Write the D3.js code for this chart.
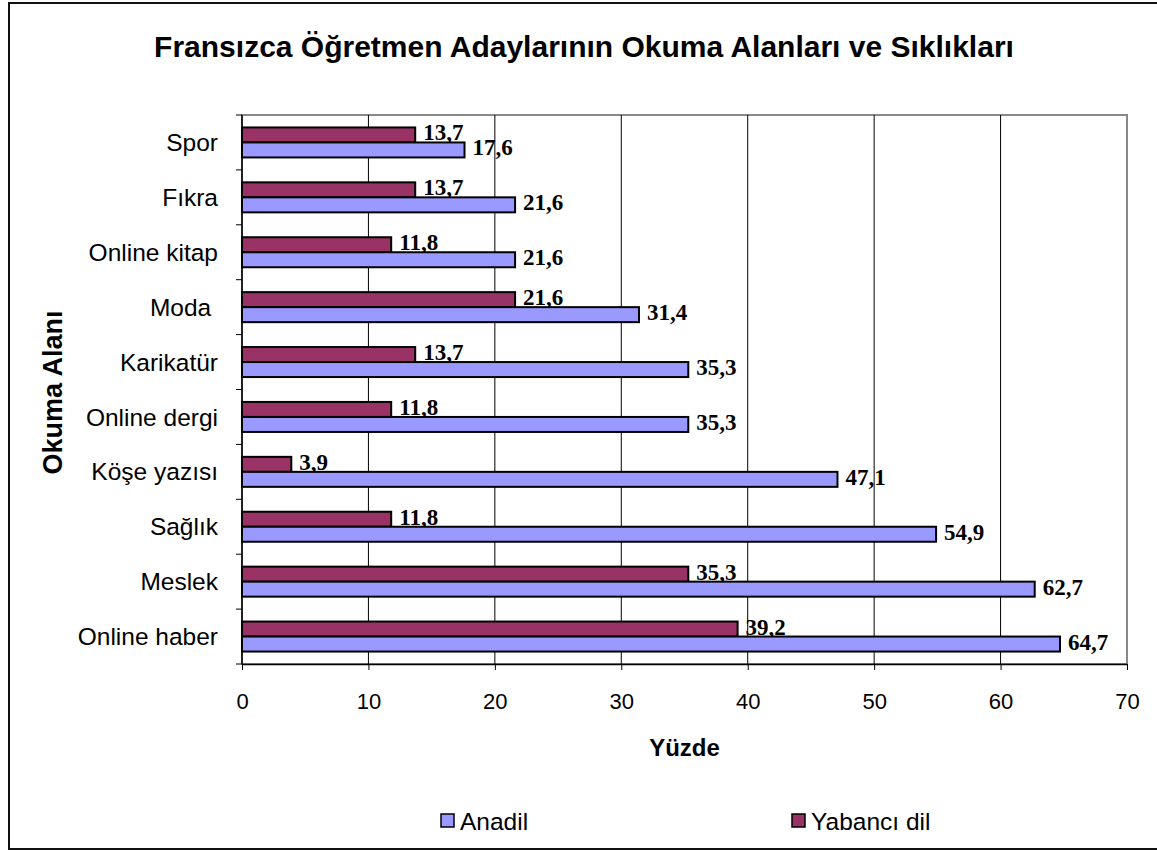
<!DOCTYPE html>
<html>
<head>
<meta charset="utf-8">
<script src="https://cdn.jsdelivr.net/npm/d3@7"></script>
<style>
  body { margin: 0; background: #fff; }
</style>
</head>
<body>
<svg id="chart" width="1157" height="850"></svg>
<script>
/* Okuma alanlari - yatay gruplu cubuk grafik */
const categories = ['Spor', 'Fıkra', 'Online kitap', 'Moda ', 'Karikatür', 'Online dergi',
  'Köşe yazısı', 'Sağlık', 'Meslek', 'Online haber']
const anadil = [17.6, 21.6, 21.6, 31.4, 35.3, 35.3, 47.1, 54.9, 62.7, 64.7]
const yabanci = [13.7, 13.7, 11.8, 21.6, 13.7, 11.8, 3.9, 11.8, 35.3, 39.2]
const seriesNames = ['Anadil', 'Yabancı dil']
const xTicks = [0, 10, 20, 30, 40, 50, 60, 70]

const plot = { left: 242, right: 1127, top: 115, bottom: 664 }
const colors = { anadil: '#9999ff', yabanci: '#993366' }
const sans = 'Arial, "Liberation Sans", sans-serif'
const serif = '"Times New Roman", "Liberation Serif", serif'

const svg = d3.select('#chart')
    .style('font-family', sans)

// dis cerceve
svg.append('rect')
    .attr('x', 9).attr('y', 3)
    .attr('width', 1160).attr('height', 846)
    .attr('fill', '#fff')
    .attr('stroke', '#111')
    .attr('stroke-width', 2)

const x = d3.scaleLinear()
    .domain([0, 70])
    .range([plot.left, plot.right])

const y = d3.scaleBand()
    .domain(categories)
    .range([plot.top, plot.bottom])

const inner = d3.scaleBand()
    .domain(['yabanci', 'anadil'])
    .range([0, 30])

const fmt = v => d3.format('.1f')(v).replace('.', ',')

// plot alani
svg.append('rect')
    .attr('x', plot.left).attr('y', plot.top)
    .attr('width', plot.right - plot.left)
    .attr('height', plot.bottom - plot.top)
    .attr('fill', 'none')
    .attr('stroke', '#888')
    .attr('stroke-width', 2)

// dikey izgara
svg.append('g')
    .selectAll('line')
    .data(xTicks.slice(1, -1))
    .enter()
    .append('line')
    .attr('x1', d => x(d)).attr('x2', d => x(d))
    .attr('y1', plot.top).attr('y2', plot.bottom)
    .attr('stroke', '#000')
    .attr('stroke-width', 1)

const xAxis = d3.axisBottom(x)
    .tickValues(xTicks)
    .tickSize(6)
    .tickSizeOuter(0)
    .tickPadding(23)

const gx = svg.append('g')
    .attr('transform', `translate(0,${plot.bottom})`)
    .call(xAxis)
gx.attr('font-size', null).attr('font-family', null)
gx.select('.domain').attr('stroke', '#000').attr('stroke-width', 1.5)
gx.selectAll('.tick line').attr('stroke', '#000')
gx.selectAll('.tick text')
    .style('font-size', '22px')
    .attr('fill', '#000')

// y ekseni: kategori sinirlarinda tikler
const gy = svg.append('g')
gy.append('line')
    .attr('x1', plot.left).attr('x2', plot.left)
    .attr('y1', plot.top).attr('y2', plot.bottom)
    .attr('stroke', '#000').attr('stroke-width', 1.5)
gy.selectAll('line.tk')
    .data(categories)
    .enter()
    .append('line')
    .attr('class', 'tk')
    .attr('x1', plot.left - 6).attr('x2', plot.left)
    .attr('y1', d => y(d) + y.bandwidth())
    .attr('y2', d => y(d) + y.bandwidth())
    .attr('stroke', '#000')
gy.append('line')
    .attr('x1', plot.left - 6).attr('x2', plot.left)
    .attr('y1', plot.top).attr('y2', plot.top)
    .attr('stroke', '#000')
gy.selectAll('text')
    .data(categories)
    .enter()
    .append('text')
    .attr('x', plot.left - 24)
    .attr('y', d => y(d) + y.bandwidth() / 2)
    .attr('dy', '0.35em')
    .attr('text-anchor', 'end')
    .style('font-size', '24.5px')
    .style('white-space', 'pre')
    .text(d => d)

// cubuklar
const rows = categories.map((c, i) => ({ cat: c, anadil: anadil[i], yabanci: yabanci[i] }))
const offset = (y.bandwidth() - 30) / 2

const group = svg.append('g')
    .selectAll('g')
    .data(rows)
    .enter()
    .append('g')
    .attr('transform', d => `translate(0,${y(d.cat) + offset})`)

;['yabanci', 'anadil'].forEach(key => {
    group.append('rect')
        .attr('x', x(0))
        .attr('y', inner(key))
        .attr('width', d => x(d[key]) - x(0))
        .attr('height', inner.bandwidth())
        .attr('fill', colors[key])
        .attr('stroke', '#000')
        .attr('stroke-width', 2)

    group.append('text')
        .attr('x', d => x(d[key]) + 8)
        .attr('y', inner(key) + inner.bandwidth() - 2)
        .style('font-family', serif)
        .style('font-weight', 'bold')
        .style('font-size', '23px')
        .text(d => fmt(d[key]))
})

// basliklar
svg.append('text')
    .attr('x', 584).attr('y', 57)
    .attr('text-anchor', 'middle')
    .style('font-weight', 'bold')
    .style('font-size', '30px')
    .text('Fransızca Öğretmen Adaylarının Okuma Alanları ve Sıklıkları')

svg.append('text')
    .attr('x', (plot.left + plot.right) / 2).attr('y', 756)
    .attr('text-anchor', 'middle')
    .style('font-weight', 'bold')
    .style('font-size', '24px')
    .text('Yüzde')

svg.append('text')
    .attr('transform', `translate(62,${(plot.top + plot.bottom) / 2 + 3}) rotate(-90)`)
    .attr('text-anchor', 'middle')
    .style('font-weight', 'bold')
    .style('font-size', '27px')
    .text('Okuma Alanı')

// lejant
const legend = svg.append('g')
    .selectAll('g')
    .data(seriesNames)
    .enter()
    .append('g')
    .attr('transform', (d, i) => `translate(${[441, 792][i]},821)`)

legend.append('rect')
    .attr('x', 0).attr('y', -7)
    .attr('width', 13).attr('height', 13)
    .attr('fill', (d, i) => [colors.anadil, colors.yabanci][i])
    .attr('stroke', '#000')
    .attr('stroke-width', 1.5)

legend.append('text')
    .attr('x', 19).attr('y', 0)
    .attr('dy', '0.35em')
    .style('font-size', '24.5px')
    .text(d => d)
</script>
</body>
</html>
